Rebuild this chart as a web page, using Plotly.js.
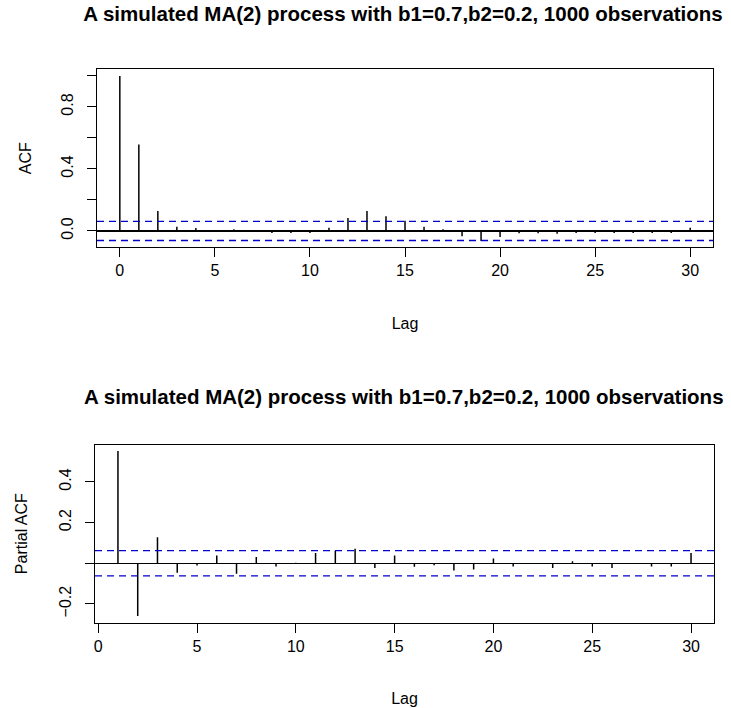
<!DOCTYPE html>
<html><head><meta charset="utf-8">
<script src="https://cdn.plot.ly/plotly-3.0.1.min.js"></script>
<style>html,body{margin:0;padding:0;background:#fff}#chart{width:731px;height:708px}</style>
</head><body><div id="chart"></div>
<script>
const chartTitle = "A simulated MA(2) process with b1=0.7,b2=0.2, 1000 observations";
const acfLags = [0,1,2,3,4,5,6,7,8,9,10,11,12,13,14,15,16,17,18,19,20,21,22,23,24,25,26,27,28,29,30];
const acfValues = [1.0,0.558,0.129,0.026,0.019,0.003,0.011,-0.003,-0.013,-0.013,-0.013,0.021,0.084,0.129,0.095,0.065,0.026,0.011,-0.034,-0.065,-0.039,-0.015,-0.015,-0.019,-0.013,-0.013,-0.013,-0.013,-0.013,-0.013,0.021];
const pacfLags = [1,2,3,4,5,6,7,8,9,10,11,12,13,14,15,16,17,18,19,20,21,22,23,24,25,26,27,28,29,30];
const pacfValues = [0.552,-0.259,0.128,-0.046,-0.011,0.038,-0.052,0.031,-0.016,0.003,0.051,0.062,0.072,-0.023,0.038,-0.017,-0.010,-0.036,-0.030,0.023,-0.016,0.002,-0.023,0.010,-0.016,-0.023,0.002,-0.016,-0.016,0.050];
const confBounds = [0.062, -0.062];
const lagTickVals = [0,5,10,15,20,25,30];
const acfTickVals = [0,0.2,0.4,0.6,0.8,1.0];
const acfTickText = ["0.0","","0.4","","0.8",""];
const pacfTickVals = [-0.2,0,0.2,0.4];
const pacfTickText = ["\u22120.2","","0.2","0.4"];

function spikes(lags, vals){
  const x=[], y=[];
  lags.forEach((l,i)=>{ x.push(l,l,null); y.push(0,vals[i],null); });
  return {x, y};
}
const s1 = spikes(acfLags, acfValues);
const s2 = spikes(pacfLags, pacfValues);
const FONT = "Liberation Sans, Arial, sans-serif";

const traces = [
  {type:'scatter', mode:'lines', x:s1.x, y:s1.y, xaxis:'x', yaxis:'y', line:{color:'black', width:1.5}, connectgaps:false, hoverinfo:'skip', showlegend:false},
  {type:'scatter', mode:'lines', x:s2.x, y:s2.y, xaxis:'x2', yaxis:'y2', line:{color:'black', width:1.5}, connectgaps:false, hoverinfo:'skip', showlegend:false}
];

const shapes = [];
confBounds.forEach(b=>{
  shapes.push({type:'line', xref:'x domain', yref:'y', x0:0, x1:1, y0:b, y1:b, line:{color:'#0000cc', width:1.3, dash:'7px,5px'}});
  shapes.push({type:'line', xref:'x2 domain', yref:'y2', x0:0, x1:1, y0:b, y1:b, line:{color:'#0000cc', width:1.3, dash:'7px,5px'}});
});

const axCommon = {showline:true, mirror:true, linecolor:'black', linewidth:1, showgrid:false,
  ticks:'outside', ticklen:9, tickwidth:1, tickcolor:'black', tickfont:{family:FONT, size:16, color:'black'}, automargin:false};

const layout = {
  width:731, height:708, paper_bgcolor:'white', plot_bgcolor:'white',
  margin:{l:0, r:0, t:0, b:0},
  font:{family:FONT, color:'black'},
  title:{text:chartTitle, x:0.5513, xanchor:'center', y:0.980, yanchor:'middle', font:{family:FONT, size:20.5, color:'black', weight:'bold'}},
  xaxis:Object.assign({}, axCommon, {domain:[0.1327,0.9754], anchor:'y', range:[-1.2,31.2], tickmode:'array', tickvals:lagTickVals, zeroline:false,
    title:{text:'Lag', standoff:39, font:{family:FONT, size:16, color:'black'}}}),
  yaxis:Object.assign({}, axCommon, {domain:[0.6511,0.9021], anchor:'x', range:[-0.104,1.0425], tickmode:'array', tickvals:acfTickVals, ticktext:acfTickText, tickangle:-90,
    ticklabelstandoff:8, zeroline:true, zerolinecolor:'black', zerolinewidth:1.2,
    title:{text:'ACF', standoff:22, font:{family:FONT, size:16, color:'black'}}}),
  xaxis2:Object.assign({}, axCommon, {domain:[0.1300,0.9767], anchor:'y2', range:[-0.16,31.16], tickmode:'array', tickvals:lagTickVals, zeroline:false,
    title:{text:'Lag', standoff:38, font:{family:FONT, size:16, color:'black'}}}),
  yaxis2:Object.assign({}, axCommon, {domain:[0.1205,0.3719], anchor:'x2', range:[-0.292,0.583], tickmode:'array', tickvals:pacfTickVals, ticktext:pacfTickText, tickangle:-90,
    ticklabelstandoff:8, zeroline:true, zerolinecolor:'black', zerolinewidth:1.2,
    title:{text:'Partial ACF', standoff:25, font:{family:FONT, size:16, color:'black'}}}),
  shapes:shapes,
  annotations:[
    {text:chartTitle, xref:'paper', yref:'paper', x:0.553, y:0.4393, xanchor:'center', yanchor:'middle', showarrow:false,
     font:{family:FONT, size:20.5, color:'black', weight:'bold'}}
  ]
};

Plotly.newPlot('chart', traces, layout, {staticPlot:true, displayModeBar:false});
</script>
</body></html>
